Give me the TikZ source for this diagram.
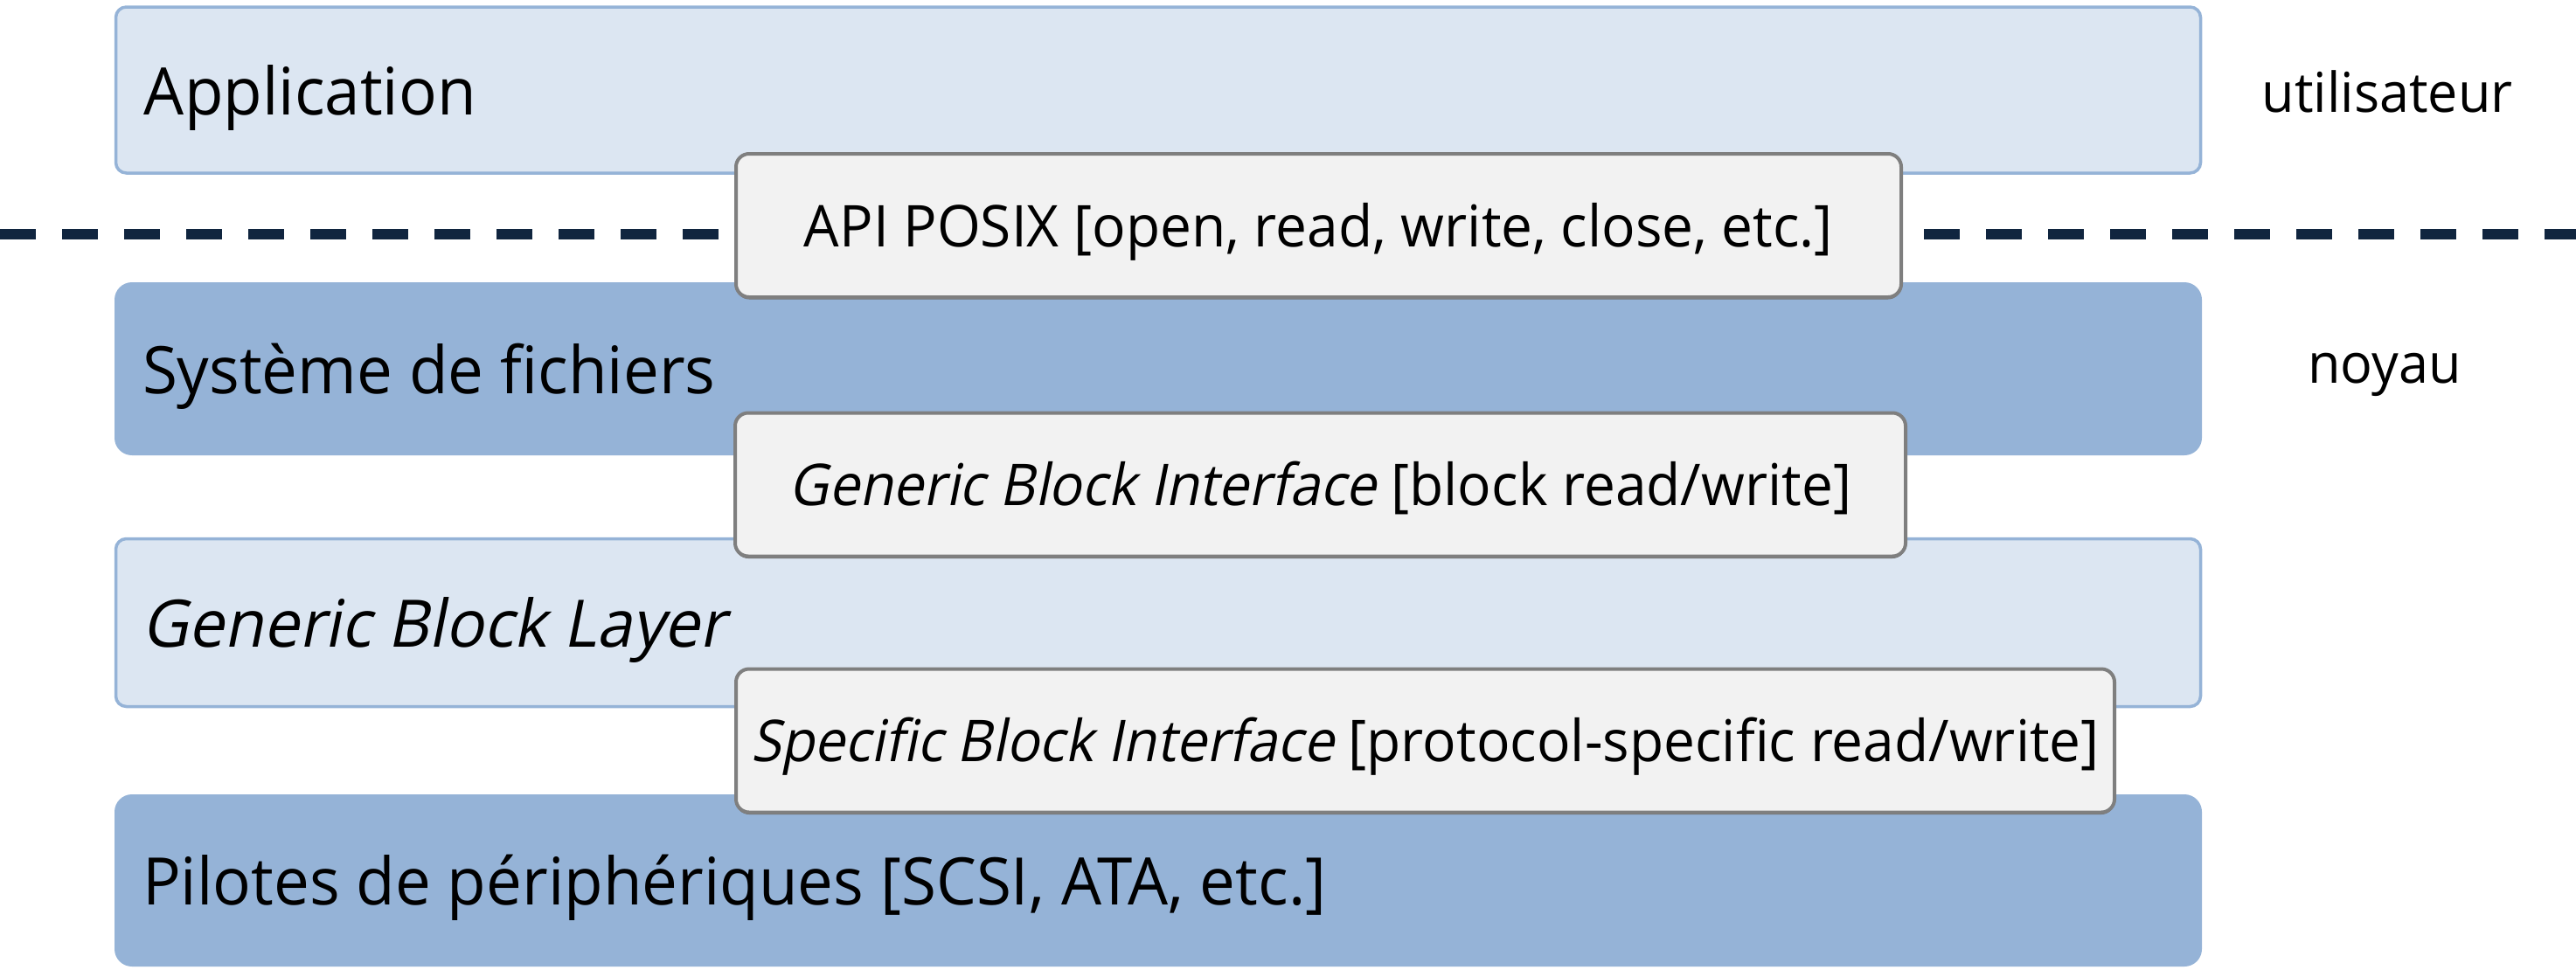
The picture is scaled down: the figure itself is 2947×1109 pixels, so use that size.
\documentclass[tikz,border=0pt]{standalone}
\usepackage{fontspec}
\setmainfont{Open Sans}[FakeStretch=0.97, ItalicFont=Open Sans, ItalicFeatures={FakeSlant=0.2}]
\newfontfamily\ifaceslant{Open Sans}[FakeStretch=0.945, FakeSlant=0.2]
\usetikzlibrary{shadows}
\definecolor{layerLight}{HTML}{DCE6F2}
\definecolor{layerEdge}{HTML}{95B3D7}
\definecolor{layerDark}{HTML}{95B3D7}
\definecolor{ifaceFill}{HTML}{F2F2F2}
\definecolor{ifaceEdge}{HTML}{7F7F7F}
\definecolor{splitLine}{HTML}{10253F}

\begin{document}
\begin{tikzpicture}[x=1pt,y=-1pt,
  lightlayer/.style={draw=layerEdge, line width=3.5pt, fill=layerLight,
    rounded corners=12pt, minimum width=2385pt, inner sep=0pt},
  darklayer/.style={fill=layerDark, rounded corners=20pt,
    minimum width=2388pt, inner sep=0pt},
  iface/.style={draw=ifaceEdge, line width=4pt, fill=ifaceFill,
    rounded corners=15pt, minimum height=164pt, inner sep=0pt,
    drop shadow={shadow xshift=0pt, shadow yshift=-2.5pt, fill=black!55, opacity=1}},
  bigtext/.style={font=\fontsize{75}{90}\selectfont, inner sep=0pt},
  ifacetext/.style={font=\fontsize{66}{79}\selectfont, inner sep=0pt},
  sidetext/.style={font=\fontsize{63}{76}\selectfont, inner sep=0pt},
  splitter/.style={draw=splitLine, line width=12pt, dash pattern=on 41pt off 30pt}
]
\useasboundingbox (0,0) rectangle (2947,1109);

% stacked layers
\node[lightlayer, minimum height=190pt] (app) at (1325,103) {};
\node[darklayer, minimum height=198pt] (fs) at (1325,422) {};
\node[lightlayer, minimum height=192pt] (gbl) at (1325,712.5) {};
\node[darklayer, minimum height=197pt] (drv) at (1325,1007.5) {};

% user / kernel boundary
\coordinate (splitL) at (0,268);
\coordinate (splitR) at (2947,268);
\draw[splitter] (splitL) -- (splitR);

% layer captions
\node[bigtext, anchor=base west] (tapp) at ([xshift=34pt,yshift=-28pt]app.west) {Application};
\node[bigtext, anchor=base west] (tfs) at ([xshift=32pt,yshift=-28pt]fs.west) {Système de fichiers};
\node[bigtext, anchor=base west] (tgbl) at ([xshift=32pt,yshift=-28pt]gbl.west) {\textit{Generic Block Layer}};
\node[bigtext, anchor=base west] (tdrv) at ([xshift=32pt,yshift=-28pt]drv.west) {Pilotes de périphériques [SCSI, ATA, etc.]};

% interfaces between layers
\node[iface, minimum width=1333pt] (posix) at (1508.5,258) {};
\node[iface, minimum width=1339pt] (gbi) at (1510.5,554.5) {};
\node[iface, minimum width=1577pt] (sbi) at (1630.5,847.5) {};

\node[ifacetext, anchor=base] (tposix) at ([yshift=-24pt]posix.center) {API POSIX [open, read, write, close, etc.]};
\node[ifacetext, anchor=base] (tgbi) at ([yshift=-24pt]gbi.center) {{\ifaceslant Generic Block Interface} [block read/write]};
\node[ifacetext, anchor=base] (tsbi) at ([yshift=-24pt]sbi.center) {{\ifaceslant Specific Block Interface} [protocol-specific read/write]};

% privilege domains
\node[sidetext, anchor=base] (user) at (2731,128) {utilisateur};
\node[sidetext, anchor=base] (kernel) at (2728,438) {noyau};
\end{tikzpicture}
\end{document}
